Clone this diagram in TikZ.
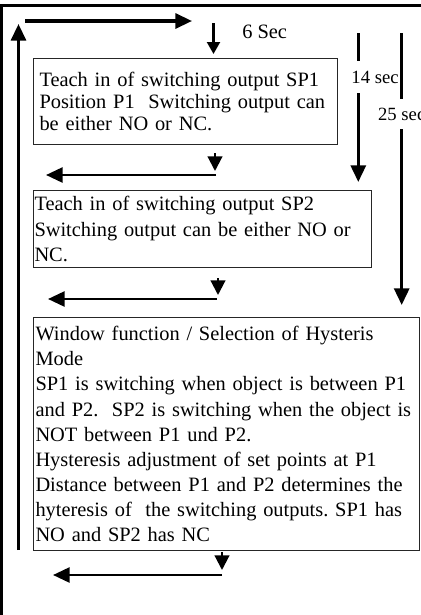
\documentclass[tikz,border=0pt]{standalone}
\usepackage{fontspec}
\setmainfont{Liberation Serif}
\usepackage{tikz}
\usetikzlibrary{arrows.meta}
\frenchspacing
\tikzstyle{stepbox} = [rectangle, draw=black!85, line width=0.75pt, anchor=north west, align=left, font=\fontsize{15.3pt}{18.8pt}\selectfont]
\tikzstyle{timelabel} = [inner sep=0pt, font=\fontsize{14pt}{16pt}\selectfont]
\tikzstyle{border} = [line width=2.2pt]
\tikzstyle{arrow} = [line width=2.3pt, -{Triangle[length=12.5pt, width=11.25pt]}]
\tikzstyle{smallarrow} = [line width=1.6pt, -{Triangle[length=11pt, width=11pt]}]

\begin{document}
\begin{tikzpicture}[x=0.75pt, y=-0.75pt]
\useasboundingbox (0,0) rectangle (421,615);

% frame
\coordinate (topleft) at (1.3,5.5);
\coordinate (topright) at (421,5.5);
\coordinate (botleft) at (1.3,615);
\draw [border] (botleft) -- (topleft) -- (topright);

\node (sp1box) [stepbox, text width=219pt, inner xsep=4.5pt, minimum height=64.5pt, font=\fontsize{15.3pt}{16.3pt}\selectfont] at (33,58) {Teach in of switching output SP1\\ Position P1~ Switching output can\\ be either NO or NC.};
\node (sp2box) [stepbox, text width=252pt, inner xsep=0.75pt, minimum height=57.75pt, font=\fontsize{15.3pt}{19.1pt}\selectfont] at (33,190) {Teach in of switching output SP2\\ Switching output can be either NO or\\ NC.};
\node (winbox) [stepbox, text width=286.5pt, inner xsep=1.5pt, minimum height=174.75pt] at (33,317) {Window function / Selection of Hysteris\\ Mode\\ SP1 is switching when object is between P1\\ and P2.~ SP2 is switching when the object is\\ NOT between P1 und P2.\\ Hysteresis adjustment of set points at P1\\ Distance between P1 and P2 determines the\\ hyteresis of~ the switching outputs. SP1 has\\ NO and SP2 has NC};

\node (sec6) [timelabel, anchor=base west, font=\fontsize{15.3pt}{17pt}\selectfont] at (242,38.5) {6 Sec};
\node (sec14) [timelabel, minimum height=24pt] at (375,77) {14 sec};
\node (sec25) [timelabel, minimum height=22.5pt] at (401.7,114) {25 sec};

% loop back to the start
\coordinate (loopbot) at (18.5,550);
\coordinate (looptop) at (18.5,24);
\coordinate (topstart) at (25,21);
\coordinate (topend) at (192,21);
\draw [arrow] (loopbot) -- (looptop);
\draw [arrow] (topstart) -- (topend);

% timing arrows
\coordinate (go6) at (213.5,23);
\coordinate (end6) at (213.5,54);
\coordinate (go14) at (358.3,33);
\coordinate (end14) at (358.3,182);
\coordinate (go25) at (401.7,33);
\coordinate (end25) at (401.7,305);
\draw [smallarrow, -{Triangle[length=9pt, width=9.75pt]}] (go6) -- (end6);
\draw [line width=2.3pt] (go14) -- (go14 |- sec14.north);
\draw [arrow] (go14 |- sec14.south) -- (end14);
\draw [line width=2.3pt] (go25) -- (go25 |- sec25.north);
\draw [arrow] (go25 |- sec25.south) -- (end25);

% arrows under the boxes
\coordinate (down1) at (215,153);
\coordinate (tip1) at (215,171);
\coordinate (back1) at (216,175);
\coordinate (left1) at (46,175);
\coordinate (down2) at (218,278);
\coordinate (tip2) at (218,295);
\coordinate (back2) at (217,299);
\coordinate (left2) at (48,299);
\coordinate (down3) at (222,552);
\coordinate (tip3) at (222,570);
\coordinate (back3) at (222,575);
\coordinate (left3) at (53,575);
\draw [smallarrow] (down1) -- (tip1);
\draw [arrow, line width=2pt] (back1) -- (left1);
\draw [smallarrow] (down2) -- (tip2);
\draw [arrow, line width=2pt] (back2) -- (left2);
\draw [smallarrow] (down3) -- (tip3);
\draw [arrow, line width=2pt] (back3) -- (left3);

\end{tikzpicture}
\end{document}
